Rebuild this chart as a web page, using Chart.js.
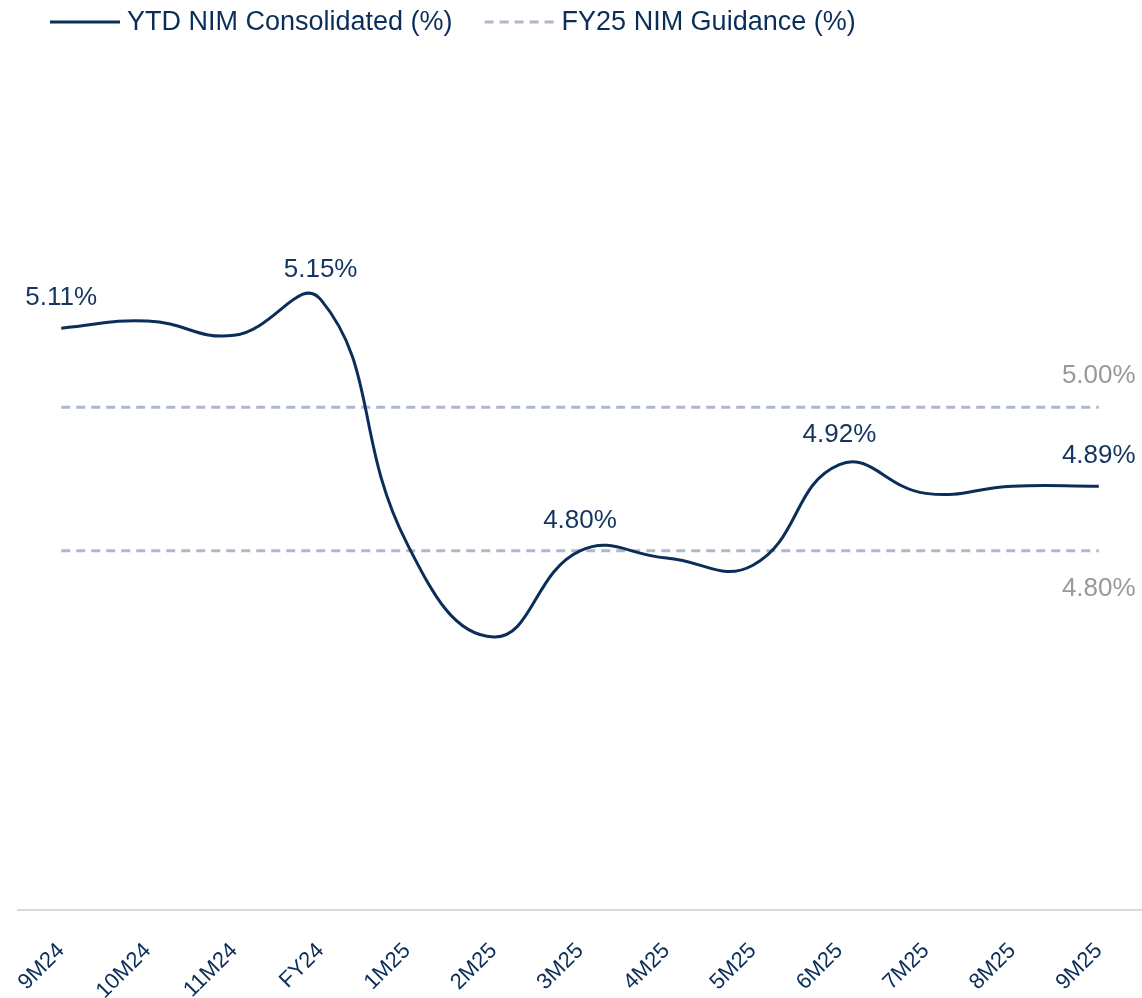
<!DOCTYPE html>
<html>
<head>
<meta charset="utf-8">
<script src="https://cdn.jsdelivr.net/npm/chart.js@4.4.1/dist/chart.umd.min.js"></script>
<style>
  html, body { margin: 0; padding: 0; background: #fff; }
  #wrap { width: 1142px; height: 998px; }
</style>
</head>
<body>
<div id="wrap"><canvas id="nimChart"></canvas></div>
<script>
// Chart data
const periods = ['9M24', '10M24', '11M24', 'FY24', '1M25', '2M25', '3M25', '4M25', '5M25', '6M25', '7M25', '8M25', '9M25'];
const nimValues = [5.11, 5.12, 5.10, 5.15, 4.81, 4.68, 4.80, 4.79, 4.78, 4.92, 4.88, 4.89, 4.89];
const guidanceHigh = 5.00;
const guidanceLow = 4.80;
const labelledIdx = [0, 3, 6, 9, 12];
const seriesNames = ['YTD NIM Consolidated (%)', 'FY25 NIM Guidance (%)'];

const navy = '#0B2E59';
const guideColor = '#ADB9CA';
const fontFamily = '"Liberation Sans", Arial, sans-serif';

// legend + value labels, drawn by hand so they sit where the original has them
const labelPlugin = {
    id: 'labelPlugin',
    afterDatasetsDraw(chart) {
        const ctx = chart.ctx;
        ctx.save();
        ctx.font = '26px ' + fontFamily;
        ctx.textAlign = 'center';
        ctx.textBaseline = 'middle';
        const meta = chart.getDatasetMeta(0);
        ctx.fillStyle = '#14355F';
        labelledIdx.forEach(function(i) {
            const pt = meta.data[i];
            ctx.fillText(nimValues[i].toFixed(2) + '%', pt.x, pt.y - 30);
        });
        ctx.fillStyle = '#999999';
        const hi = chart.getDatasetMeta(1).data[periods.length - 1];
        const lo = chart.getDatasetMeta(2).data[periods.length - 1];
        ctx.fillText(guidanceHigh.toFixed(2) + '%', hi.x, hi.y - 31);
        ctx.fillText(guidanceLow.toFixed(2) + '%', lo.x, lo.y + 38);

        // legend
        ctx.font = '27px ' + fontFamily;
        ctx.textAlign = 'left';
        ctx.lineWidth = 3;
        let x = 50;
        const y = 22;
        ctx.strokeStyle = navy;
        ctx.beginPath(); ctx.moveTo(x, y); ctx.lineTo(x + 70, y); ctx.stroke();
        ctx.fillStyle = navy;
        ctx.fillText(seriesNames[0], x + 77, y + 1);
        x = x + 77 + ctx.measureText(seriesNames[0]).width + 32;
        ctx.strokeStyle = guideColor;
        ctx.setLineDash([9, 6]);
        ctx.beginPath(); ctx.moveTo(x, y); ctx.lineTo(x + 70, y); ctx.stroke();
        ctx.setLineDash([]);
        ctx.fillText(seriesNames[1], x + 77, y + 1);
        ctx.restore();
    }
};

new Chart(document.getElementById('nimChart'), {
    type: 'line',
    data: {
        labels: periods,
        datasets: [{
            label: seriesNames[0],
            data: nimValues,
            borderColor: navy,
            backgroundColor: navy,
            borderWidth: 3,
            pointRadius: 0,
            tension: 0.45,
            order: 0
        }, {
            label: seriesNames[1],
            data: periods.map(() => guidanceHigh),
            borderColor: guideColor,
            borderWidth: 3,
            borderDash: [9, 6],
            pointRadius: 0,
            order: 1
        }, {
            label: 'FY25 NIM Guidance low',
            data: periods.map(() => guidanceLow),
            borderColor: guideColor,
            borderWidth: 3,
            borderDash: [9, 6],
            pointRadius: 0,
            order: 1
        }]
    },
    options: {
        responsive: true,
        maintainAspectRatio: false,
        animation: false,
        layout: { padding: { left: 18, right: 0, top: 48, bottom: 0 } },
        plugins: {
            tooltip: { enabled: false },
            legend: { display: false }
        },
        scales: {
            x: {
                offset: true,
                grid: { display: false },
                border: { display: true, color: '#D9D9D9', width: 2 },
                afterFit: function(scale) { scale.height = 88; },
                ticks: {
                    color: navy,
                    minRotation: 45,
                    maxRotation: 45,
                    padding: 20,
                    font: { family: fontFamily, size: 22 }
                }
            },
            y: {
                display: false,
                min: 4.3,
                max: 5.5
            }
        }
    },
    plugins: [labelPlugin]
});
</script>
</body>
</html>
